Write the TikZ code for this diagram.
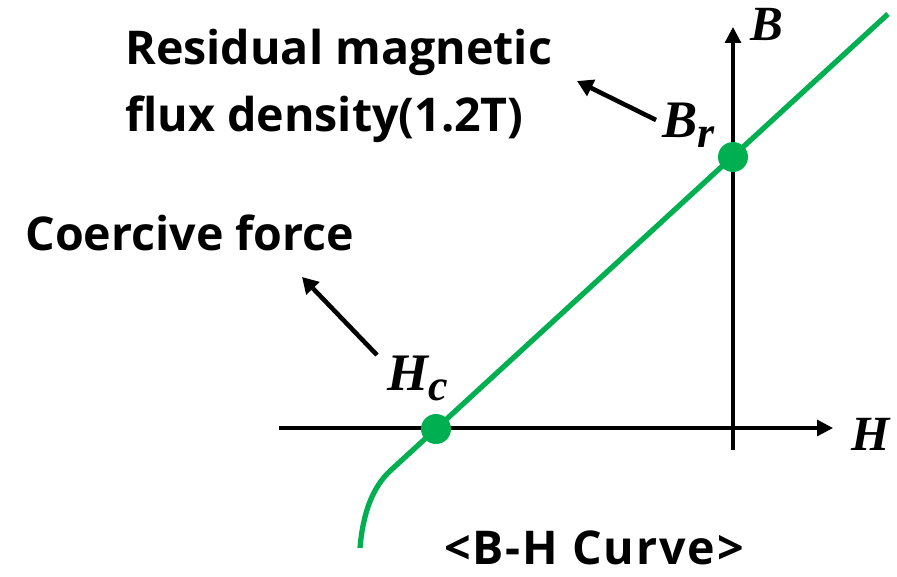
\documentclass[tikz,border=0pt]{standalone}
\usepackage{fontspec}
\setsansfont{Open Sans}
\newfontfamily\symfont{Liberation Serif}
\usetikzlibrary{positioning,arrows.meta}
\definecolor{bhgreen}{RGB}{0,176,80}
\newcommand{\lowsub}[1]{\raisebox{-0.45ex}{\fontsize{25}{25}\selectfont #1}}

\begin{document}
\begin{tikzpicture}[
  x=0.02cm, y=-0.02cm,
  font=\sffamily\bfseries\fontsize{26.5}{30}\selectfont,
  axis/.style={line width=1.8pt, -{Triangle[length=9pt, width=9pt]}},
  pointer/.style={line width=2.6pt, -{Triangle[length=9pt, width=10pt]}},
  bhcurve/.style={line width=3pt, bhgreen},
  dot/.style={circle, fill=bhgreen, inner sep=0pt, minimum size=0.6cm},
  sym/.style={font=\symfont\bfseries\itshape\fontsize{28}{28}\selectfont, inner sep=0pt, anchor=base west},
  ptsym/.style={sym, font=\symfont\bfseries\itshape\fontsize{30}{30}\selectfont},
  lbl/.style={anchor=base west, inner sep=0pt}
]
\useasboundingbox (0,0) rectangle (897,576);
% ---------- axes ----------
\coordinate (hstart) at (279,428);
\coordinate (hend) at (833,428);
\coordinate (bstart) at (733,450);
\coordinate (bend) at (733,27);
\draw[axis] (hstart) -- (hend);
\draw[axis] (bstart) -- (bend);
\node[sym] (blab) at (750,40) {B};
\node[sym] (hlab) at (851,450) {H};
% ---------- B-H curve ----------
\coordinate (cstart) at (360,548);
\coordinate (cknee) at (390,471);
\coordinate (cend) at (888,14);
\draw[bhcurve] (cstart) .. controls (363,512) and (373,487) .. (cknee) -- (cend);
\node[dot] (hc) at (436,429) {};
\node[dot] (br) at (733,157) {};
% ---------- point labels ----------
\node[ptsym] (hclab) at (387,390) {H\lowsub{c}};
\node[ptsym] (brlab) at (662,137) {B\lowsub{r}};
% ---------- texts and pointers ----------
\node[lbl] (resid1) at (125,64) {Residual magnetic};
\node[lbl] (resid2) at (125,131) {flux density(1.2T)};
\node[lbl] (coerc) at (25,250) {Coercive force};
\node[lbl, anchor=base] (title) at (594,564) {\addfontfeature{LetterSpace=4}<B-H Curve>};
\coordinate (brtail) at (656,120);
\coordinate (brtip) at (577,81);
\coordinate (hctail) at (377,355);
\coordinate (hctip) at (302,277);
\draw[pointer] (brtail) -- (brtip);
\draw[pointer] (hctail) -- (hctip);
\end{tikzpicture}
\end{document}
